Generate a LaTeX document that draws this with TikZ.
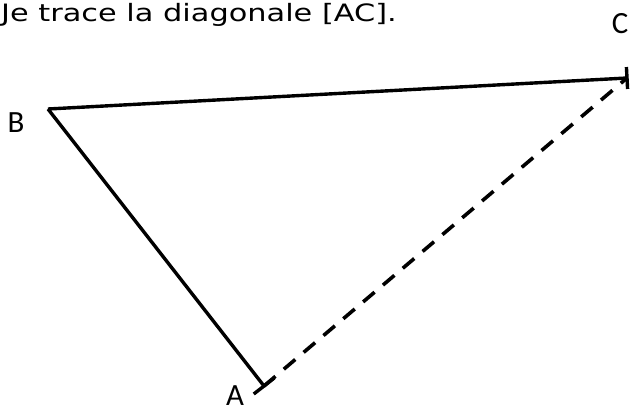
\documentclass[tikz,border=0pt]{standalone}
\usepackage{fontspec}
\setmainfont{Carlito}
\newfontfamily\titlefont{DejaVu Sans}[FakeStretch=1.27]
\usetikzlibrary{arrows.meta, positioning, calc}

\begin{document}
\begin{tikzpicture}[x=1bp, y=-1bp,
    seg/.style={line width=3.4bp},
    ptlabel/.style={inner sep=0pt, font={\fontsize{31}{33}\selectfont}}]

\useasboundingbox (0,0) rectangle (630,414);

% Title
\node[anchor=base west, inner sep=0, font={\titlefont\fontsize{24}{28}\selectfont}] (title) at (1,21) {Je trace la diagonale [AC].};

% Points
\coordinate (A) at (264,386);
\coordinate (B) at (48,109);
\coordinate (C) at (627,78);

% Sides
\draw[seg] (B) -- (A);
\draw[seg] (B) -- (C);

% Ticks at the ends
\draw[seg] ($(A)!13bp!90:(B)$) -- ($(A)!13bp!-90:(B)$);
\draw[seg] ($(C)!11bp!90:(B)$) -- ($(C)!11bp!-90:(B)$);

% Diagonal
\draw[line width=3.6bp, dash pattern=on 15bp off 11bp] (A) -- (C);

% Labels
\node[ptlabel, anchor=base] (labA) at (235,405) {A};
\node[ptlabel, anchor=base] (labB) at (16,132) {B};
\node[ptlabel, anchor=base] (labC) at (620,33) {C};
\end{tikzpicture}
\end{document}
